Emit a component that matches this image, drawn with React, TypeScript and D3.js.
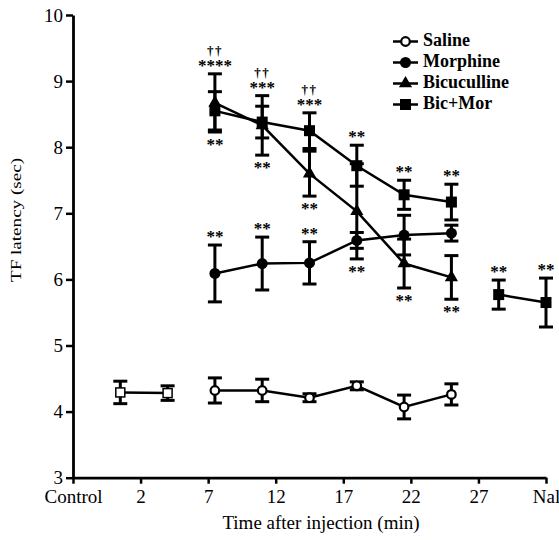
import {useEffect, useRef} from "react";
import * as d3 from "d3";

// x positions are in minutes, "Control" tick sits at -3 and "Nal" at 32
const tickValues = [-3, 2, 7, 12, 17, 22, 27, 32];
const tickLabels = ["Control", "2", "7", "12", "17", "22", "27", "Nal"];
const yTicks = [3, 4, 5, 6, 7, 8, 9, 10];

const controlTimes = [0.5, 4];
const controlMean = [4.29, 4.28];
const controlErr = [0.17, 0.11];

const timePoints = [7.5, 11, 14.5, 18, 21.5, 25];
const salineMean = [4.32, 4.32, 4.21, 4.39, 4.07, 4.26];
const salineErr = [0.19, 0.17, 0.06, 0.06, 0.18, 0.16];
const morphineMean = [6.09, 6.24, 6.25, 6.59, 6.67, 6.70];
const morphineErr = [0.43, 0.40, 0.32, 0.12, 0.30, 0.12];
const bicMean = [8.67, 8.33, 7.60, 7.03, 6.24, 6.03];
const bicErr = [0.44, 0.45, 0.34, 0.72, 0.37, 0.33];
const bicMorMean = [8.55, 8.38, 8.25, 7.72, 7.28, 7.17];
const bicMorErr = [0.29, 0.24, 0.27, 0.31, 0.22, 0.27];

const nalTimes = [28.5, 32];
const nalMean = [5.77, 5.65];
const nalErr = [0.22, 0.37];

// significance marks: [series, point index, stars, daggers]
const aboveMarks: [string, number, string, string][] = [
    ["bic", 0, "****", "††"],
    ["bic", 1, "***", "††"],
    ["bicMor", 2, "***", "††"],
    ["bicMor", 3, "**", ""],
    ["bicMor", 4, "**", ""],
    ["bicMor", 5, "**", ""],
    ["morphine", 0, "**", ""],
    ["morphine", 1, "**", ""],
    ["morphine", 2, "**", ""],
    ["nal", 0, "**", ""],
    ["nal", 1, "**", ""],
];
const belowMarks: [string, number][] = [
    ["bic", 0], ["bic", 1], ["bic", 2], ["bic", 3], ["bic", 4], ["bic", 5],
];

const legendNames = ["Saline", "Morphine", "Bicuculline", "Bic+Mor"];
const legendShapes = ["openCircle", "circle", "triangle", "square"];

const FONT = "'Liberation Serif', 'Times New Roman', serif";

export default function App() {
    const svgRef = useRef<SVGSVGElement>(null);

    useEffect(() => {
        if (!svgRef.current) return;
        const svg = d3.select(svgRef.current);
        svg.selectAll("*").remove();

        const x = d3.scaleLinear().domain([-3, 32]).range([73, 546]);
        const y = d3.scaleLinear().domain([3, 10]).range([477.7, 15]);

        const series: Record<string, {t: number[], m: number[], e: number[], shape: string}> = {
            control: {t: controlTimes, m: controlMean, e: controlErr, shape: "openSquare"},
            saline: {t: timePoints, m: salineMean, e: salineErr, shape: "openCircle"},
            morphine: {t: timePoints, m: morphineMean, e: morphineErr, shape: "circle"},
            bic: {t: timePoints, m: bicMean, e: bicErr, shape: "triangle"},
            bicMor: {t: timePoints, m: bicMorMean, e: bicMorErr, shape: "square"},
            nal: {t: nalTimes, m: nalMean, e: nalErr, shape: "square"},
        };

        // axes
        const yAxis = svg.append("g")
            .attr("transform", `translate(${x(-3)},0)`)
            .call(d3.axisLeft(y).tickValues(yTicks).tickFormat(d3.format("d"))
                .tickSize(7).tickPadding(3).tickSizeOuter(0));
        const xAxis = svg.append("g")
            .attr("transform", `translate(0,${y(3)})`)
            .call(d3.axisBottom(x).tickValues(tickValues).tickFormat((d, i) => tickLabels[i])
                .tickSize(6).tickPadding(3).tickSizeOuter(0));
        [yAxis, xAxis].forEach(a => {
            a.select(".domain").attr("stroke", "#000").attr("stroke-width", 2.8);
            a.selectAll(".tick line").attr("stroke", "#000").attr("stroke-width", 2.5);
            a.selectAll(".tick text").attr("fill", "#000")
                .style("font-family", FONT).style("font-size", "19px");
        });
        xAxis.selectAll(".tick text").attr("dy", "0.85em");

        svg.append("text")
            .attr("x", 321).attr("y", 529)
            .attr("text-anchor", "middle")
            .style("font-family", FONT).style("font-size", "19px")
            .text("Time after injection (min)");
        svg.append("text")
            .attr("transform", "translate(21,220) rotate(-90)")
            .attr("text-anchor", "middle")
            .attr("textLength", 124).attr("lengthAdjust", "spacingAndGlyphs")
            .style("font-family", FONT).style("font-size", "15px")
            .text("TF latency (sec)");

        const line = d3.line<number>();

        // connecting lines
        Object.values(series).forEach(s => {
            svg.append("path")
                .datum(s.t.map((t, i) => [x(t), y(s.m[i])]) as any)
                .attr("d", line as any)
                .attr("fill", "none").attr("stroke", "#000").attr("stroke-width", 2.5);
        });

        // error bars
        Object.values(series).forEach(s => {
            s.t.forEach((t, i) => {
                const g = svg.append("g").attr("stroke", "#000").attr("stroke-width", 3);
                const cx = x(t), top = y(s.m[i] + s.e[i]), bot = y(s.m[i] - s.e[i]);
                g.append("line").attr("x1", cx).attr("x2", cx).attr("y1", top).attr("y2", bot);
                g.append("line").attr("x1", cx - 7).attr("x2", cx + 7).attr("y1", top).attr("y2", top);
                g.append("line").attr("x1", cx - 7).attr("x2", cx + 7).attr("y1", bot).attr("y2", bot);
            });
        });

        function marker(g: any, shape: string, cx: number, cy: number) {
            if (shape === "openCircle") {
                g.append("circle").attr("cx", cx).attr("cy", cy).attr("r", 4.3)
                    .attr("fill", "#fff").attr("stroke", "#000").attr("stroke-width", 2.2);
            } else if (shape === "circle") {
                g.append("circle").attr("cx", cx).attr("cy", cy).attr("r", 5.5).attr("fill", "#000");
            } else if (shape === "square") {
                g.append("rect").attr("x", cx - 5.5).attr("y", cy - 5.5).attr("width", 11).attr("height", 11)
                    .attr("fill", "#000");
            } else if (shape === "openSquare") {
                g.append("rect").attr("x", cx - 4.5).attr("y", cy - 4.5).attr("width", 9).attr("height", 9)
                    .attr("fill", "#fff").attr("stroke", "#000").attr("stroke-width", 1.5);
            } else if (shape === "triangle") {
                g.append("path")
                    .attr("d", d3.symbol().type(d3.symbolTriangle).size(75)())
                    .attr("transform", `translate(${cx},${cy})`)
                    .attr("fill", "#000");
            }
        }

        // markers
        Object.values(series).forEach(s => {
            s.t.forEach((t, i) => marker(svg, s.shape, x(t), y(s.m[i])));
        });

        // significance marks (daggers stacked over stars in one text element)
        aboveMarks.forEach(([name, i, stars, daggers]) => {
            const s = series[name];
            const cx = x(s.t[i]);
            const cy = y(s.m[i] + s.e[i]) - 11;
            const txt = svg.append("text")
                .attr("text-anchor", "middle").attr("fill", "#000")
                .style("font-family", FONT).style("font-weight", "bold");
            if (daggers) {
                txt.append("tspan").attr("x", cx).attr("y", cy - 11 + 3.5)
                    .attr("letter-spacing", 1.5).style("font-size", "13px").text(daggers);
            }
            txt.append("tspan").attr("x", cx).attr("y", cy + 8.2)
                .style("font-size", "17px").text(stars);
        });
        belowMarks.forEach(([name, i]) => {
            const s = series[name];
            svg.append("text")
                .attr("x", x(s.t[i])).attr("y", y(s.m[i] - s.e[i]) + 10 + 8.2)
                .attr("text-anchor", "middle").attr("fill", "#000")
                .style("font-family", FONT).style("font-size", "17px").style("font-weight", "bold")
                .text("**");
        });

        // legend
        for (let i = 0; i < legendNames.length; i++) {
            const ly = 41.5 + i * 21;
            svg.append("line").attr("x1", 393).attr("x2", 418).attr("y1", ly).attr("y2", ly)
                .attr("stroke", "#000").attr("stroke-width", 2.5);
            marker(svg, legendShapes[i], 405.5, ly);
            svg.append("text").attr("x", 423).attr("y", ly)
                .attr("dominant-baseline", "middle")
                .style("font-family", FONT).style("font-size", "18px").style("font-weight", "bold")
                .text(legendNames[i]);
        }
    }, []);

    return (
        <svg ref={svgRef} width={559} height={540}
             style={{position: "absolute", left: 0, top: 0, background: "#fff"}}></svg>
    );
}
